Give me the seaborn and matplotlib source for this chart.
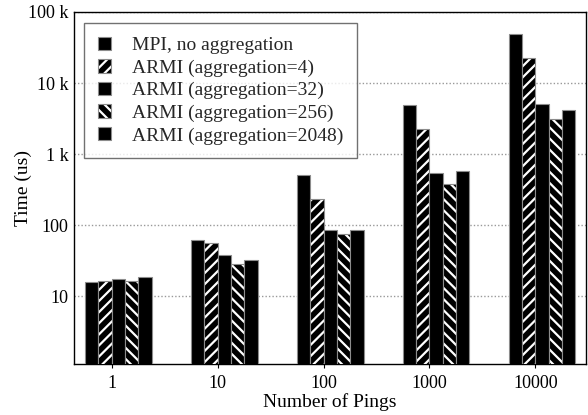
import numpy as np
import pandas as pd
import matplotlib
matplotlib.use("Agg")
import matplotlib.pyplot as plt
import seaborn as sns
from matplotlib.colors import to_rgba
from matplotlib.ticker import FixedLocator, FixedFormatter, NullLocator

# values (time in us)
pings = ["1", "10", "100", "1000", "10000"]
series = ["MPI, no aggregation", "ARMI (aggregation=4)", "ARMI (aggregation=32)",
          "ARMI (aggregation=256)", "ARMI (aggregation=2048)"]
mpi = [15.8, 61.2, 512, 4940, 48500]
armi_4 = [16.7, 56.1, 238, 2260, 22500]
armi_32 = [17.8, 37.9, 84.7, 546, 5050]
armi_256 = [16.7, 28.3, 74.3, 378, 3130]
armi_2048 = [19.0, 32.2, 84.7, 583, 4200]
hatches = [None, "///", None, "\\\\\\", None]

y_ticks = [10, 100, 1000, 10000, 100000]
y_tick_labels = ["10", "100", "1 k", "10 k", "100 k"]

rows = []
for name, vals in zip(series, [mpi, armi_4, armi_32, armi_256, armi_2048]):
    for p, v in zip(pings, vals):
        rows.append({"pings": p, "series": name, "time": v})
df = pd.DataFrame(rows)

sns.set_theme(style="white")
plt.rcParams["font.family"] = ["Liberation Serif", "DejaVu Serif"]
plt.rcParams["hatch.linewidth"] = 1.6

fig = plt.figure(figsize=(5.88, 4.15), dpi=100)
ax = fig.add_axes([74 / 588, 1 - 364 / 415, 512 / 588, 352 / 415])

width = 0.63
sns.barplot(data=df, x="pings", y="time", hue="series", hue_order=series,
            order=pings, palette=["black"] * 5, saturation=1, width=width,
            edgecolor="0.55", linewidth=0.8, legend=False, ax=ax, zorder=3)

for cont, h in zip(ax.containers, hatches):
    for p in cont:
        p.set_facecolor("black")
        if h:
            p.set_hatch(h)
            try:
                p.set_hatchcolor("white")
            except AttributeError:
                p._hatch_color = to_rgba("white")

ax.set_yscale("log")
ax.set_ylim(1.12, 1e5)
ax.set_xlim(-0.419, 4.415)
ax.yaxis.set_major_locator(FixedLocator(y_ticks))
ax.yaxis.set_major_formatter(FixedFormatter(y_tick_labels))
ax.yaxis.set_minor_locator(NullLocator())

bw = width / 5
ax.set_xticks(np.arange(len(pings)) - bw / 2)
ax.set_xticklabels(pings)

ax.grid(axis="y", which="major", color="0.6", linestyle=(0, (1, 1.5)), linewidth=1, zorder=0)
ax.grid(axis="x", visible=False)
ax.set_axisbelow(True)

for s in ax.spines.values():
    s.set_color("black")
    s.set_linewidth(1.0)

ax.tick_params(axis="y", length=0, labelsize=13, pad=4, colors="black")
ax.tick_params(axis="x", length=3, width=0.8, direction="out", labelsize=13, pad=5,
               colors="black", bottom=True)

ax.set_xlabel("Number of Pings", fontsize=14, color="black", labelpad=1)
ax.set_ylabel("Time (us)", fontsize=14, color="black", labelpad=-3)

leg = ax.legend(ax.containers, series, loc="upper left",
                bbox_to_anchor=((84 - 74) / 512, 1 - (23 - 12) / 352),
                borderaxespad=0, fontsize=14, frameon=True, fancybox=False,
                handlelength=0.68, handleheight=0.68, handletextpad=1.1,
                labelspacing=0.26, borderpad=0.7)
leg.get_frame().set_edgecolor("0.3")
leg.get_frame().set_linewidth(1.0)

fig.savefig("out.png", dpi=100)
